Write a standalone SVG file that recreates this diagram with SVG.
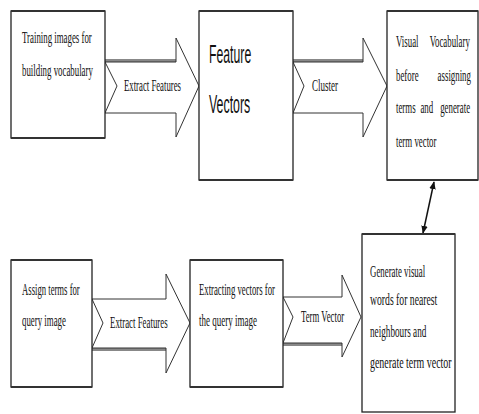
<svg xmlns="http://www.w3.org/2000/svg" width="479" height="414" viewBox="0 0 479 414">
<defs>
<style>
.box{fill:#fff;stroke:#222;stroke-width:1.3}
.edge{stroke:#333;stroke-width:2}
.arr{fill:#fff;stroke:#333;stroke-width:1}
.sh{stroke:#888;stroke-width:3}
.t{font-family:"Liberation Serif","Times New Roman",serif;font-size:17px;fill:#111}
.s{font-family:"Liberation Sans",Arial,sans-serif;font-size:25px;fill:#111}
.c{stroke:#111;stroke-width:1.5;fill:none}
</style>
<marker id="ah" viewBox="0 0 10 10" refX="9" refY="5" markerWidth="8" markerHeight="8" orient="auto-start-reverse" markerUnits="userSpaceOnUse">
<path d="M0,1 L10,5 L0,9 Z" fill="#111"/>
</marker>
</defs>
<rect width="479" height="414" fill="#fff"/>
<g id="connectors">
<g id="arrow1">
<line class="sh" x1="105" y1="60.5" x2="176" y2="60.5"/>
<polygon class="arr" points="105,62 176,62 176,38 199,86 176,137 176,113 105,113 117,86"/>
<text class="t" transform="translate(124,91) scale(0.514,1)">Extract Features</text>
</g>
<g id="arrow2">
<line class="sh" x1="293" y1="60.5" x2="363" y2="60.5"/>
<polygon class="arr" points="293,62 363,62 363,38 387,86 363,137 363,113 293,113 304,86"/>
<text class="t" transform="translate(312,91) scale(0.53,1)">Cluster</text>
</g>
<g id="arrow3">
<line class="sh" x1="92" y1="349.5" x2="166" y2="349.5"/>
<polygon class="arr" points="92,299 166,299 166,274 190,323 166,373 166,348 92,348 103,323"/>
<text class="t" transform="translate(110,328) scale(0.52,1)">Extract Features</text>
</g>
<g id="arrow4">
<line class="sh" x1="283" y1="344.5" x2="342" y2="344.5"/>
<polygon class="arr" points="283,297 342,297 342,275 361,317 342,357 342,343 283,343 293,317"/>
<text class="t" transform="translate(301,322) scale(0.515,1)">Term Vector</text>
</g>
<line class="c" x1="434" y1="182" x2="423" y2="233" marker-start="url(#ah)" marker-end="url(#ah)"/>
</g>
<g id="node1">
<rect class="box" x="11" y="11" width="94" height="127"/>
<line class="edge" x1="11" y1="11" x2="105" y2="11"/><line class="edge" x1="11" y1="138" x2="105" y2="138"/>
<text class="t" transform="translate(22,43) scale(0.52,1)">Training images for</text>
<text class="t" transform="translate(22,76) scale(0.52,1)">building vocabulary</text>
</g>
<g id="node2">
<rect class="box" x="199" y="11" width="94" height="169"/>
<line class="edge" x1="199" y1="11" x2="293" y2="11"/><line class="edge" x1="199" y1="180" x2="293" y2="180"/>
<text class="s" transform="translate(209,63) scale(0.49,1)">Feature</text>
<text class="s" transform="translate(209,113) scale(0.495,1)">Vectors</text>
</g>
<g id="node3">
<rect class="box" x="387" y="11" width="91" height="169"/>
<line class="edge" x1="387" y1="11" x2="478" y2="11"/><line class="edge" x1="387" y1="180" x2="478" y2="180"/>
<g transform="translate(396,0) scale(0.52,1)">
<text class="t"><tspan x="0" y="47">Visual</tspan><tspan x="65" y="47">Vocabulary</tspan></text>
<text class="t"><tspan x="0" y="81">before</tspan><tspan x="80" y="81">assigning</tspan></text>
<text class="t"><tspan x="0" y="113">terms</tspan><tspan x="47" y="113">and</tspan><tspan x="85" y="113">generate</tspan></text>
<text class="t" x="0" y="147">term vector</text>
</g>
</g>
<g id="node4">
<rect class="box" x="11" y="260" width="81" height="127"/>
<line class="edge" x1="11" y1="260" x2="92" y2="260"/><line class="edge" x1="11" y1="387" x2="92" y2="387"/>
<text class="t" transform="translate(22,295) scale(0.51,1)">Assign terms for</text>
<text class="t" transform="translate(22,326) scale(0.52,1)">query image</text>
</g>
<g id="node5">
<rect class="box" x="190" y="260" width="93" height="127"/>
<line class="edge" x1="190" y1="260" x2="283" y2="260"/><line class="edge" x1="190" y1="387" x2="283" y2="387"/>
<text class="t" transform="translate(199,295) scale(0.513,1)">Extracting vectors for</text>
<text class="t" transform="translate(199,326) scale(0.53,1)">the query image</text>
</g>
<g id="node6">
<rect class="box" x="362" y="234" width="93" height="178"/>
<line class="edge" x1="362" y1="234" x2="455" y2="234"/>
<text class="t" transform="translate(370,277) scale(0.52,1)">Generate visual</text>
<text class="t" transform="translate(370,305) scale(0.57,1)">words for nearest</text>
<text class="t" transform="translate(370,337) scale(0.54,1)">neighbours and</text>
<text class="t" transform="translate(370,368) scale(0.585,1)">generate term vector</text>
</g>
</svg>
